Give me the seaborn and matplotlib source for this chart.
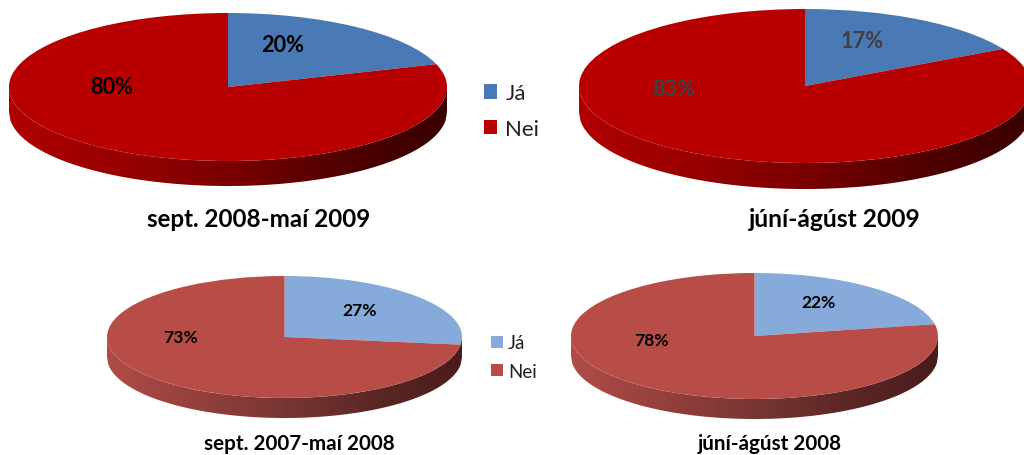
import numpy as np
import matplotlib
matplotlib.use("Agg")
import matplotlib.pyplot as plt
from matplotlib.patches import Polygon, Patch
from matplotlib.colors import LinearSegmentedColormap
import seaborn as sns

sns.set_theme(style="white")
plt.rcParams["font.family"] = ["Lato", "DejaVu Sans"]

categories = ["Já", "Nei"]
titles = ["sept. 2008-maí 2009", "júní-ágúst 2009", "sept. 2007-maí 2008", "júní-ágúst 2008"]
ja_values = [20, 17, 27, 22]
nei_values = [80, 83, 73, 78]

W, H = 1024, 456
fig = plt.figure(figsize=(W / 100, H / 100), dpi=100, facecolor="white")

# layout in pixels: centre x, centre y, radius x, radius y, depth
geom = [(228, 88, 219, 74, 25), (805, 87, 226, 77, 26), (284.5, 338, 177.5, 61, 20), (754.5, 337, 183.5, 63, 20)]
dark_colors = ["#4a7ab6", "#b80000"]
light_colors = ["#86aad9", "#b84d48"]
dark_side = sns.blend_palette(["#b00000", "#980000", "#7a0000", "#520000", "#3a0000"], 32)
light_side = sns.blend_palette(["#b04c48", "#94403c", "#783633", "#5c2725", "#4a1c1b"], 32)
title_pos = [(258.5, 220, 17.4), (834.5, 220, 17.7), (299.5, 444, 14.9), (769.5, 444, 14.9)]
ja_pos = [(283, 45), (862, 41), (360, 311), (818, 303)]
nei_pos = [(112, 87), (674, 89), (180, 338), (651, 341)]
label_size = [15.7, 15.7, 12.6, 12.6]
label_color = ["black", "#404040", "black", "black"]


def px(x, y):
    return x / W, 1 - y / H


handles_by_row = {}
for i, (cx, cy, rx, ry, depth) in enumerate(geom):
    top_row = i < 2
    colors = dark_colors if top_row else light_colors
    d = depth / ry
    ax = fig.add_axes([(cx - rx) / W, 1 - (cy + ry + depth) / H, 2 * rx / W, (2 * ry + depth) / H])
    wedges, _ = ax.pie([ja_values[i], nei_values[i]], colors=colors, startangle=90, counterclock=False,
                       radius=1, wedgeprops={"linewidth": 0, "zorder": 3})
    handles_by_row[top_row] = colors
    cmap = LinearSegmentedColormap.from_list("side", dark_side if top_row else light_side)
    im = ax.imshow(np.linspace(0, 1, 256)[None, :], cmap=cmap, extent=(-1, 1, -1 - d, 0), aspect="auto", zorder=1)
    xs = np.linspace(-1, 1, 300)
    lower = -np.sqrt(np.clip(1 - xs ** 2, 0, 1))
    verts = np.r_[np.c_[xs, lower], np.c_[xs[::-1], lower[::-1] - d]]
    im.set_clip_path(Polygon(verts, closed=True, transform=ax.transData))
    ax.set_aspect("auto")
    ax.set_xlim(-1, 1)
    ax.set_ylim(-1 - d, 1)
    ax.axis("off")
    for child in ax.patches:
        child.set_clip_on(False)

    fig.text(*px(*ja_pos[i]), f"{ja_values[i]}%", ha="center", va="center", fontsize=label_size[i],
             fontweight="bold", color=label_color[i])
    fig.text(*px(*nei_pos[i]), f"{nei_values[i]}%", ha="center", va="center", fontsize=label_size[i],
             fontweight="bold", color=label_color[i])
    tx, ty, fs = title_pos[i]
    fig.text(*px(tx, ty), titles[i], ha="center", va="center", fontsize=fs, fontweight="bold", color="black")

legend_layout = [(True, (484, 112), 16, 0.69, 0.6, 0.36), (False, (491, 358), 13.5, 0.6, 0.64, 0.27)]
for top_row, anchor, fs, sp, hs, pad in legend_layout:
    colors = handles_by_row[top_row]
    fig.legend(handles=[Patch(color=c, lw=0) for c in colors], labels=categories,
               loc="center left", bbox_to_anchor=px(*anchor), frameon=False, fontsize=fs,
               handlelength=hs, handleheight=hs, handletextpad=pad, labelspacing=sp,
               borderpad=0, borderaxespad=0, labelcolor="#222222")

fig.savefig("out.png", dpi=100)
